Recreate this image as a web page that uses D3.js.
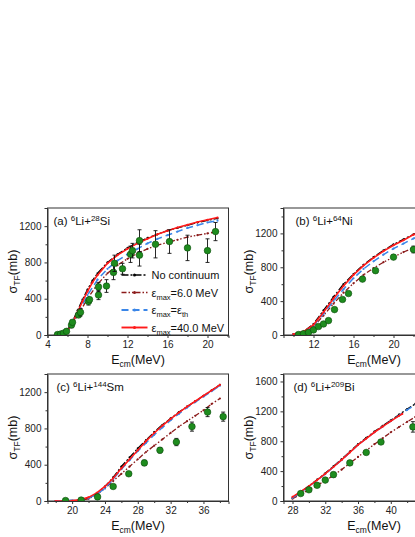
<!DOCTYPE html>
<html><head><meta charset="utf-8">
<script src="https://cdn.jsdelivr.net/npm/d3@7"></script>
<style>body{margin:0;overflow:hidden;background:#fff}svg{font-family:Arial,"Liberation Sans",sans-serif}</style>
</head><body><svg id="c" width="480" height="537"></svg>
<script>
// panel (a) 6Li+28Si
var aNoCont=[[4.8,0],[5.5,20],[6,60],[6.5,150],[7,270],[7.5,390],[8,500],[8.5,600],[9,680],[10,800],[11,890],[12,960],[13,1020],[14,1070],[15,1110],[16,1150],[17,1180],[18,1210],[19,1240],[20,1265],[21,1285]];
var a6=[[4.8,0],[6,40],[7,210],[8,400],[9,560],[10,680],[11,770],[12,840],[13,900],[14,950],[15,990],[16,1020],[17,1050],[18,1080],[19,1100],[20,1120],[21,1140]];
var aTh=[[4.8,0],[6,45],[7,230],[8,440],[9,610],[10,730],[11,820],[12,890],[13,950],[14,1010],[15,1060],[16,1100],[17,1140],[18,1180],[19,1210],[20,1240],[21,1260]];
var a40=[[4.8,0],[5.5,15],[6,50],[6.5,130],[7,250],[7.5,370],[8,480],[8.5,580],[9,660],[10,790],[11,880],[12,950],[13,1010],[14,1060],[15,1110],[16,1150],[17,1185],[18,1215],[19,1245],[20,1270],[21,1295]];
var aExp=[[5.0,5,0],[5.3,10,0],[5.6,20,0],[5.9,40,0],[6.4,110,30],[6.5,140,0],[7.1,220,0],[7.3,250,40],[8.1,370,40],[8.2,390,0],[9.1,440,50],[9.1,530,50],[9.9,540,70],[10.6,690,80],[10.7,790,90],[11.5,730,60],[12.3,890,90],[12.5,930,80],[13.2,880,120],[13.2,1040,120],[14.8,1000,150],[16.2,1030,130],[18.0,960,140],[20.0,930,130],[20.8,1140,100]];
// panel (b) 6Li+64Ni
var bNoCont=[[10,10],[11,40],[12,130],[13,290],[14,450],[15,600],[16,720],[17,830],[18,920],[19,1000],[20,1070],[21,1130],[22,1190],[23,1240],[24,1290],[25,1330],[26,1370]];
var b6=[[10,10],[11,30],[12,100],[13,230],[14,370],[15,500],[16,610],[17,710],[18,790],[19,860],[20,920],[21,980],[22,1030],[23,1080],[24,1120],[25,1160],[26,1200]];
var bTh=[[10,10],[11,35],[12,110],[13,250],[14,400],[15,540],[16,670],[17,780],[18,870],[19,950],[20,1020],[21,1080],[22,1140],[23,1190],[24,1240],[25,1280],[26,1320]];
var b40=[[10,10],[11,40],[12,120],[13,270],[14,430],[15,580],[16,710],[17,820],[18,910],[19,990],[20,1060],[21,1120],[22,1185],[23,1235],[24,1285],[25,1325],[26,1365]];
var bExp=[[10.5,5,0],[11,15,0],[11.5,30,0],[12,60,0],[12.5,100,0],[13,130,0],[13.5,170,0],[14.1,300,0],[14.9,420,0],[15.5,490,0],[16.9,660,0],[18.2,760,0],[20,920,0],[22,1010,40],[24,1130,60]];
// panel (c) 6Li+144Sm
var cNoCont=[[18,0],[20,2],[21,10],[22,30],[23,80],[24,160],[25,260],[26,380],[27,480],[28,580],[29,670],[30,760],[31,840],[32,910],[33,980],[34,1040],[35,1100],[36,1160],[37,1220],[38,1280]];
var c6=[[18,0],[21,10],[22,25],[23,70],[24,140],[25,220],[26,300],[27,380],[28,460],[29,540],[30,610],[31,680],[32,750],[33,820],[34,880],[35,940],[36,1000],[37,1070],[38,1130]];
var cTh=[[18,0],[21,10],[22,30],[23,75],[24,140],[25,240],[26,350],[27,450],[28,550],[29,640],[30,730],[31,810],[32,890],[33,960],[34,1030],[35,1090],[36,1150],[37,1210],[38,1270]];
var c40=[[18,0],[20,2],[21,15],[22,40],[23,90],[24,160],[25,250],[26,360],[27,460],[28,560],[29,660],[30,750],[31,830],[32,905],[33,975],[34,1040],[35,1100],[36,1160],[37,1220],[38,1280]];
var cExp=[[19.2,5,0],[21.1,10,0],[23.1,45,15],[25,160,20],[26.9,300,0],[28.8,420,30],[30.7,560,30],[32.7,650,40],[34.6,820,50],[36.5,980,50],[38.4,930,50]];
// panel (d) 6Li+209Bi
var dNoCont=[[28,40],[29,120],[30,200],[31,285],[32,370],[33,465],[34,560],[35,660],[36,760],[37,845],[38,930],[39,1005],[40,1080],[41,1155],[42,1230],[43,1300],[44,1370]];
var d6=[[28,30],[29,90],[30,150],[31,210],[32,270],[33,345],[34,420],[35,505],[36,590],[37,675],[38,760],[39,840],[40,920],[41,990],[42,1060],[43,1125],[44,1190]];
var dTh=[[28,40],[30,195],[32,360],[34,550],[36,750],[38,920],[40,1070],[42,1220],[44,1360],[46,1480]];
var d40=[[28,55],[29,125],[30,200],[31,280],[32,365],[33,455],[34,550],[35,650],[36,750],[37,835],[38,920],[39,995],[40,1070],[41,1140],[41.4,1165]];
var dExp=[[29,100,0],[30,150,0],[31,210,0],[32,280,20],[33,353,30],[35,510,0],[37,650,25],[38.8,790,0],[42.7,992,70]];

var xTicksA=[4,8,12,16,20], xTicksB=[12,16,20], xTicksC=[20,24,28,32,36], xTicksD=[28,32,36,40];
var yTicks14=[0,400,800,1200], yTicksD=[0,400,800,1200,1600];

var svg=d3.select("#c");
var styles={
  nc:{c:"#000",dash:"7,2,2,2",w:1.3},
  m6:{c:"#8b1a1a",dash:"5,2,1.5,2,1.5,2",w:1.3},
  th:{c:"#3a86e8",dash:"7,4",w:1.5},
  m40:{c:"#ff1a1a",dash:null,w:1.6}
};

function panel(o){
  var W=181,H=127;
  var g=svg.append("g").attr("transform","translate("+o.left+","+o.top+")");
  var x=d3.scaleLinear().domain(o.xd).range([0,W]);
  var y=d3.scaleLinear().domain(o.yd).range([H,0]);
  var id="clip"+o.name;
  g.append("clipPath").attr("id",id).append("rect").attr("width",W).attr("height",H);
  g.append("g").attr("transform","translate(0,"+H+")").call(d3.axisBottom(x).tickValues(o.xt).tickSize(3).tickFormat(d3.format("d")));
  var xm=d3.range(Math.ceil(o.xd[0]/2)*2,o.xd[1]+0.01,2).filter(function(v){return o.xt.indexOf(v)<0;});
  g.append("g").attr("transform","translate(0,"+H+")").call(d3.axisBottom(x).tickValues(xm).tickSize(2).tickFormat("")).select(".domain").remove();
  g.append("g").call(d3.axisLeft(y).tickValues(o.yt).tickSize(3).tickFormat(d3.format("d")));
  var ym=o.yt.map(function(v){return v+200;}).filter(function(v){return v<o.yd[1];});
  g.append("g").call(d3.axisLeft(y).tickValues(ym).tickSize(2).tickFormat("")).select(".domain").remove();
  g.selectAll(".tick text").attr("font-size",10).attr("fill","#222");
  g.selectAll(".tick line,.domain").attr("stroke","#333");
  g.append("rect").attr("width",W).attr("height",H).attr("fill","none").attr("stroke","#333");
  var line=d3.line().x(function(d){return x(d[0]);}).y(function(d){return y(d[1]);});
  var pg=g.append("g").attr("clip-path","url(#"+id+")");
  o.series.forEach(function(s){
    var st=styles[s.k];
    pg.append("path").datum(s.d).attr("d",line).attr("fill","none").attr("stroke",st.c).attr("stroke-width",st.w).attr("stroke-dasharray",st.dash);
    pg.selectAll(null).data(s.d).enter().append("circle").attr("cx",function(d){return x(d[0]);}).attr("cy",function(d){return y(d[1]);}).attr("r",1.1).attr("fill",st.c);
  });
  var e=pg.selectAll(null).data(o.exp).enter().append("g");
  e.filter(function(d){return d[2]>0;}).each(function(d){
    var gg=d3.select(this);
    gg.append("line").attr("x1",x(d[0])).attr("x2",x(d[0])).attr("y1",y(d[1]-d[2])).attr("y2",y(d[1]+d[2])).attr("stroke","#111").attr("stroke-width",0.9);
    [d[1]-d[2],d[1]+d[2]].forEach(function(v){gg.append("line").attr("x1",x(d[0])-2).attr("x2",x(d[0])+2).attr("y1",y(v)).attr("y2",y(v)).attr("stroke","#111").attr("stroke-width",0.9);});
  });
  e.append("circle").attr("cx",function(d){return x(d[0]);}).attr("cy",function(d){return y(d[1]);}).attr("r",3.3).attr("fill","#1e8c1e").attr("stroke","#0c4a0c").attr("stroke-width",0.6);
  var t=g.append("text").attr("x",o.lx).attr("y",17).attr("font-size",11.5).attr("fill","#111");
  t.append("tspan").text(o.tag+" ");
  t.append("tspan").attr("font-size",8).attr("dy",-4).text("6");
  t.append("tspan").attr("dy",4).text("Li+");
  t.append("tspan").attr("font-size",8).attr("dy",-4).text(o.mass);
  t.append("tspan").attr("dy",4).text(o.el);
  var xl=g.append("text").attr("x",W/2).attr("y",H+29).attr("text-anchor","middle").attr("font-size",12.5).attr("fill","#111");
  xl.append("tspan").text("E");
  xl.append("tspan").attr("font-size",8.5).attr("dy",3).text("cm");
  xl.append("tspan").attr("dy",-3).text("(MeV)");
  var yl=g.append("text").attr("transform","translate(-31,"+(H/2)+") rotate(-90)").attr("text-anchor","middle").attr("font-size",12.5).attr("fill","#111");
  yl.append("tspan").text("\u03c3");
  yl.append("tspan").attr("font-size",8.5).attr("dy",3).text("TF");
  yl.append("tspan").attr("dy",-3).text("(mb)");
  return {g:g,x:x,y:y};
}

var pa=panel({name:"a",left:47.5,top:208,xd:[4,22.1],yd:[0,1400],xt:xTicksA,yt:yTicks14,tag:"(a)",mass:"28",el:"Si",lx:6,
  series:[{k:"nc",d:aNoCont},{k:"m6",d:a6},{k:"th",d:aTh},{k:"m40",d:a40}],exp:aExp});
panel({name:"b",left:283.5,top:208,xd:[9,27.1],yd:[0,1500],xt:xTicksB,yt:yTicks14,tag:"(b)",mass:"64",el:"Ni",lx:12,
  series:[{k:"nc",d:bNoCont},{k:"m6",d:b6},{k:"th",d:bTh},{k:"m40",d:b40}],exp:bExp});
panel({name:"c",left:47.5,top:374,xd:[17,39.05],yd:[0,1400],xt:xTicksC,yt:yTicks14,tag:"(c)",mass:"144",el:"Sm",lx:9,
  series:[{k:"nc",d:cNoCont},{k:"m6",d:c6},{k:"th",d:cTh},{k:"m40",d:c40}],exp:cExp});
panel({name:"d",left:283.5,top:374,xd:[26.9,49],yd:[0,1700],xt:xTicksD,yt:yTicksD,tag:"(d)",mass:"209",el:"Bi",lx:10,
  series:[{k:"nc",d:dNoCont},{k:"m6",d:d6},{k:"th",d:dTh},{k:"m40",d:d40}],exp:dExp});

// legend in panel (a)
var legend=[{k:"nc",t:"No continuum"},{k:"m6",t:"=6.0 MeV",e:1},{k:"th",t:"=\u03b5",e:2},{k:"m40",t:"=40.0 MeV",e:1}];
var lg=pa.g.append("g").attr("transform","translate(74,67)");
legend.forEach(function(l,i){
  var st=styles[l.k], yy=i*17.5;
  lg.append("line").attr("x1",0).attr("x2",26).attr("y1",yy).attr("y2",yy).attr("stroke",st.c).attr("stroke-width",st.w+0.3).attr("stroke-dasharray",st.dash);
  lg.append("circle").attr("cx",13).attr("cy",yy).attr("r",1.5).attr("fill",st.c);
  var t=lg.append("text").attr("x",30).attr("y",yy+4).attr("font-size",11).attr("fill","#111");
  if(!l.e){t.text(l.t);return;}
  t.append("tspan").text("\u03b5");
  t.append("tspan").attr("font-size",7.5).attr("dy",3).text("max");
  t.append("tspan").attr("dy",-3).text(l.t);
  if(l.e===2){t.append("tspan").attr("font-size",7.5).attr("dy",3).text("th");}
});
</script></body></html>
